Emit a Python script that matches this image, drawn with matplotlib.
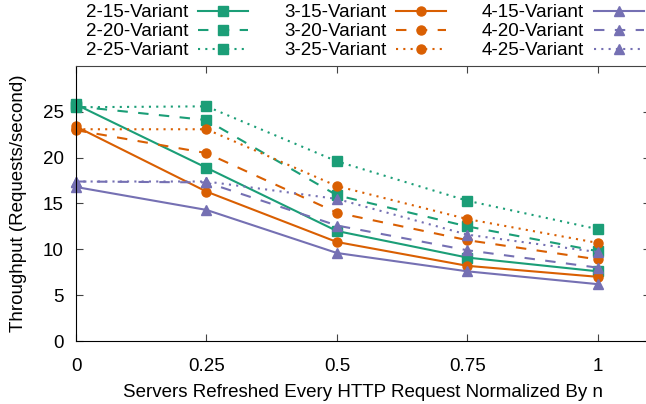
import matplotlib
matplotlib.use("Agg")
import matplotlib.pyplot as plt

plt.rcParams["font.family"] = ["Liberation Sans", "DejaVu Sans"]

x_vals = [0, 0.25, 0.5, 0.75, 1]
x_labels = ["0", "0.25", "0.5", "0.75", "1"]

v2_15 = [25.8, 18.9, 12.0, 9.1, 7.6]
v2_20 = [25.6, 24.1, 15.9, 12.5, 9.8]
v2_25 = [25.5, 25.6, 19.6, 15.3, 12.2]
v3_15 = [23.4, 16.3, 10.8, 8.2, 7.0]
v3_20 = [23.0, 20.5, 14.0, 11.0, 8.9]
v3_25 = [23.1, 23.1, 16.9, 13.3, 10.7]
v4_15 = [16.8, 14.3, 9.6, 7.6, 6.2]
v4_20 = [17.4, 17.3, 12.6, 9.9, 8.0]
v4_25 = [17.4, 17.4, 15.5, 11.6, 9.7]

GREEN = "#1b9e77"
ORANGE = "#d95f02"
PURPLE = "#7570b3"

series = [
    ("2-15-Variant", v2_15, GREEN, "s", "-"),
    ("2-20-Variant", v2_20, GREEN, "s", (0, (5, 5))),
    ("2-25-Variant", v2_25, GREEN, "s", (0, (1, 2.5))),
    ("3-15-Variant", v3_15, ORANGE, "o", "-"),
    ("3-20-Variant", v3_20, ORANGE, "o", (0, (5, 5))),
    ("3-25-Variant", v3_25, ORANGE, "o", (0, (1, 2.5))),
    ("4-15-Variant", v4_15, PURPLE, "^", "-"),
    ("4-20-Variant", v4_20, PURPLE, "^", (0, (5, 5))),
    ("4-25-Variant", v4_25, PURPLE, "^", (0, (1, 2.5))),
]

fig = plt.figure(figsize=(6.46, 4.04), dpi=100)
ax = fig.add_axes([76 / 646, 1 - 341 / 404, 574 / 646, 275 / 404])

for label, vals, color, marker, ls in series:
    ax.plot(x_vals, vals, color=color, marker=marker, linestyle=ls,
            linewidth=1.5, markersize=6.5, label=label, clip_on=False)

ax.set_xlim(0, 1.1)
ax.set_ylim(0, 30)
ax.set_xticks(x_vals)
ax.set_xticklabels(x_labels)
ax.set_yticks([0, 5, 10, 15, 20, 25])
ax.tick_params(direction="in", length=5, top=True, right=True,
               labelsize=13.5, color="#444444")
ax.tick_params(axis="x", pad=12)
ax.tick_params(axis="y", pad=9)
for side in ["left", "bottom"]:
    ax.spines[side].set_color("black")
ax.spines["top"].set_color("#444444")
ax.spines["right"].set_color("#444444")

ax.set_xlabel("Servers Refreshed Every HTTP Request Normalized By n",
              fontsize=13.5, labelpad=7)
ax.set_ylabel("Throughput (Requests/second)", fontsize=13.5, labelpad=11)

fig.legend(loc="upper left", bbox_to_anchor=(86 / 646, 1 - 4 / 404), ncol=3,
           markerfirst=False, frameon=False, fontsize=13.5,
           handlelength=2.7, handletextpad=0.5, columnspacing=1.9,
           labelspacing=0.1, borderaxespad=0.0, borderpad=0.0)

fig.savefig("out.png", dpi=100)
